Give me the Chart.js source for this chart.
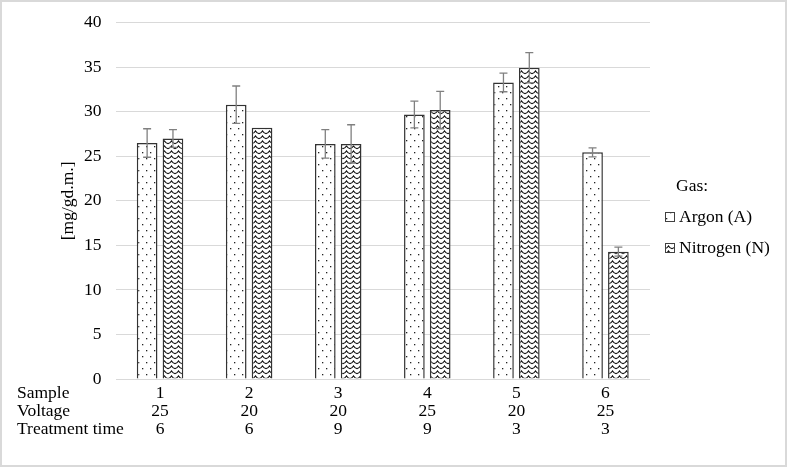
<!DOCTYPE html>
<html><head><meta charset="utf-8">
<script src="https://cdn.jsdelivr.net/npm/chart.js@4.4.1/dist/chart.umd.min.js"></script>
<style>html,body{margin:0;padding:0;background:#fff}#wrap{width:787px;height:467px;position:relative}</style>
</head><body><div id="wrap"><canvas id="c" width="787" height="467"></canvas></div>
<script>
const samples = ['1','2','3','4','5','6'];
const voltage = ['25','20','20','25','20','25'];
const treatmentTime = ['6','6','9','9','3','3'];
const rowHeaders = ['Sample','Voltage','Treatment time'];
const seriesNames = ['Argon (A)','Nitrogen (N)'];
const legendTitle = 'Gas:';
const yTitle = '[mg/gd.m.]';
const argon = [26.5, 30.8, 26.4, 29.7, 33.3, 25.45];
const argonErr = [1.6, 2.1, 1.6, 1.5, 1.05, 0.5];
const nitrogen = [27.0, 28.2, 26.4, 30.2, 34.95, 14.3];
const nitrogenErr = [1.0, 0, 2.15, 2.1, 1.7, 0.5];
const yMin = 0, yMax = 40, yStep = 5;

const FONT = 'Liberation Serif, "Times New Roman", serif';
const FS = 17.5;

function dotPattern(){
  const c = document.createElement('canvas'); c.width = 8; c.height = 12;
  const x = c.getContext('2d');
  x.fillStyle = '#fff'; x.fillRect(0,0,8,12);
  x.fillStyle = '#222';
  x.fillRect(2,2,1.3,1.3); x.fillRect(6,8,1.3,1.3);
  return x.createPattern(c,'repeat');
}
function wavePattern(){
  const c = document.createElement('canvas'); c.width = 7; c.height = 5;
  const x = c.getContext('2d');
  x.fillStyle = '#fff'; x.fillRect(0,0,7,5);
  x.strokeStyle = '#111'; x.lineWidth = 1.25;
  for (const dy of [-5, 0, 5]) {
    x.beginPath();
    x.moveTo(-0.2, 3.6+dy);
    x.quadraticCurveTo(1.75, 3.6+dy, 3.5, 1.0+dy);
    x.quadraticCurveTo(5.25, 3.6+dy, 7.2, 3.6+dy);
    x.stroke();
  }
  return x.createPattern(c,'repeat');
}
const pats = [dotPattern(), wavePattern()];
const errs = [argonErr, nitrogenErr];

const frame = {
  id:'frame',
  beforeDraw(ch){ const g=ch.ctx; g.save(); g.fillStyle='#fff'; g.fillRect(0,0,ch.width,ch.height); g.restore(); },
  afterDraw(ch){ const g=ch.ctx; g.save(); g.strokeStyle='#d9d9d9'; g.lineWidth=2; g.strokeRect(1,1,ch.width-2,ch.height-2); g.restore(); }
};
const errorBars = {
  id:'errorBars',
  afterDatasetsDraw(ch){
    const g=ch.ctx, ys=ch.scales.y;
    g.save(); g.strokeStyle='#808080'; g.lineWidth=1.3;
    ch.data.datasets.forEach((ds,i)=>{
      const meta=ch.getDatasetMeta(i);
      meta.data.forEach((el,j)=>{
        const v=ds.data[j], e=errs[i][j];
        if(!e) return;
        const t=ys.getPixelForValue(v+e), b=ys.getPixelForValue(v-e);
        g.beginPath();
        g.moveTo(el.x,t); g.lineTo(el.x,b);
        g.moveTo(el.x-4,t); g.lineTo(el.x+4,t);
        g.moveTo(el.x-4,b); g.lineTo(el.x+4,b);
        g.stroke();
      });
    });
    g.restore();
  }
};
const extras = {
  id:'extras',
  afterDraw(ch){
    const g=ch.ctx, xs=ch.scales.x, ca=ch.chartArea;
    g.save();
    g.font = FS+'px '+FONT; g.fillStyle='#000'; g.textBaseline='middle'; g.textAlign='left';
    rowHeaders.forEach((t,i)=>{ g.fillText(t, 17, xs.top + 5 + 18*i + 9); });
    const lx = ca.right + 15;
    g.fillText(legendTitle, lx + 11, 186);
    const ly = [217, 248];
    seriesNames.forEach((n,i)=>{
      g.fillStyle = pats[i]; g.fillRect(lx, ly[i]-5, 10, 10);
      g.strokeStyle='#404040'; g.lineWidth=1; g.strokeRect(lx+0.5, ly[i]-4.5, 9, 9);
      g.fillStyle='#000'; g.fillText(n, lx + 14, ly[i]);
    });
    g.restore();
  }
};

new Chart(document.getElementById('c'), {
  type:'bar',
  data:{
    labels: samples.map((s,i)=>[s, voltage[i], treatmentTime[i]]),
    datasets:[
      {label:seriesNames[0], data:argon, backgroundColor:pats[0], borderColor:'#333', borderWidth:1.5},
      {label:seriesNames[1], data:nitrogen, backgroundColor:pats[1], borderColor:'#333', borderWidth:1.5}
    ]
  },
  options:{
    responsive:false, animation:false, devicePixelRatio:1,
    categoryPercentage:0.58, barPercentage:0.8,
    layout:{padding:{left:58, right:137, top:21, bottom:24}},
    plugins:{legend:{display:false}, tooltip:{enabled:false}},
    scales:{
      x:{
        grid:{display:false, drawTicks:false}, border:{display:false},
        ticks:{color:'#000', font:{family:FONT, size:FS, lineHeight:'18px'}, padding:5, maxRotation:0, autoSkip:false}
      },
      y:{
        min:yMin, max:yMax,
        grid:{color:'#d9d9d9', drawTicks:false, lineWidth:1}, border:{display:false},
        ticks:{stepSize:yStep, color:'#000', font:{family:FONT, size:FS, lineHeight:1.0}, padding:14},
        title:{display:true, text:yTitle, color:'#000', font:{family:FONT, size:FS, lineHeight:1.2}, padding:{top:0,bottom:-9}}
      }
    }
  },
  plugins:[frame, errorBars, extras]
});
</script></body></html>
